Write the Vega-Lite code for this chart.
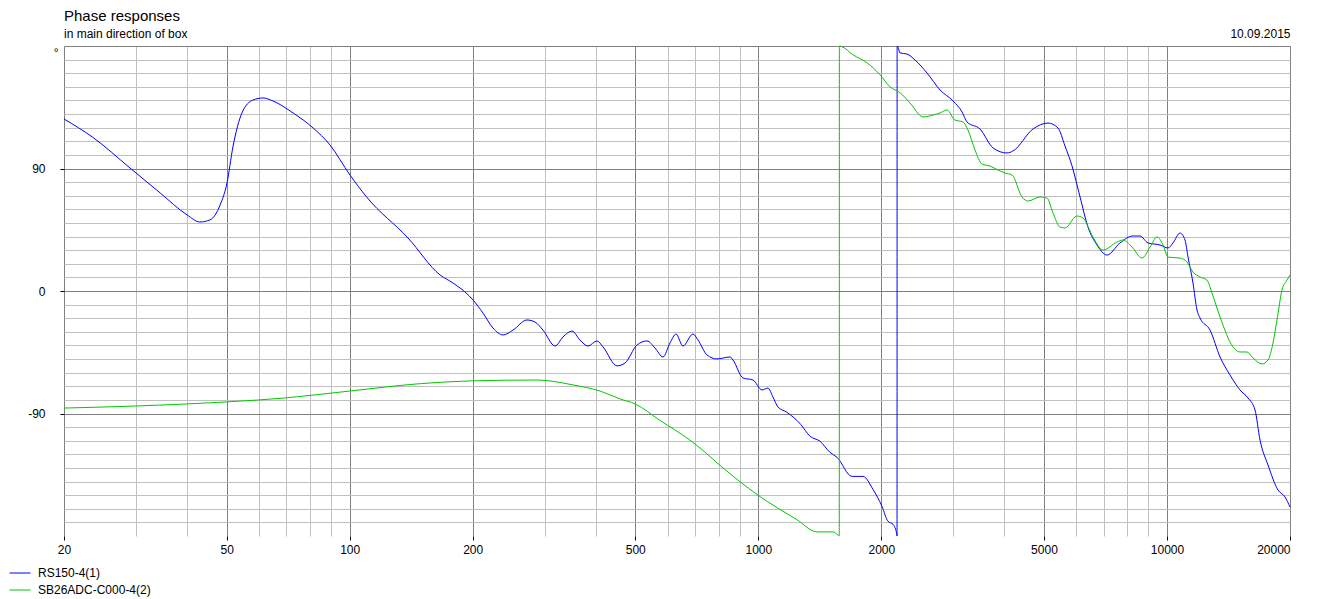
{
  "$schema": "https://vega.github.io/schema/vega-lite/v6.json",
  "width": 1226,
  "height": 490,
  "autosize": {"type": "none"},
  "padding": {"left": 64, "top": 46, "right": 28, "bottom": 63},
  "background": "white",
  "title": {
    "text": "Phase responses",
    "subtitle": "in main direction of box",
    "anchor": "start",
    "frame": "group",
    "font": "Liberation Sans",
    "fontSize": 15,
    "fontWeight": "normal",
    "color": "black",
    "subtitleFont": "Liberation Sans",
    "subtitleFontSize": 12,
    "subtitleColor": "black",
    "subtitlePadding": 5,
    "offset": 6,
    "dy": 19
  },
  "datasets": {
    "blue": [
      {"f":20,"p":126.4},{"f":23.5,"p":113},{"f":29.0,"p":90.4},{"f":34.4,"p":72},{"f":40,"p":55.9},{"f":43.0,"p":50.7},{"f":45.5,"p":52.2},{"f":48.2,"p":63.2},{"f":50.1,"p":79.3},{"f":51.8,"p":105.8},{"f":54.5,"p":130.8},{"f":58.0,"p":140.3},{"f":61.4,"p":141.8},{"f":64.9,"p":139.6},{"f":72.7,"p":130.8},{"f":81.4,"p":119.8},{"f":89.5,"p":107.3},{"f":100.2,"p":85.2},{"f":110,"p":69.1},{"f":139,"p":38.9},{"f":166.4,"p":11.8},{"f":179,"p":5.9},{"f":191.5,"p":-0.7},{"f":200.4,"p":-6.6},{"f":212,"p":-16.2},{"f":224.2,"p":-27.2},{"f":237.4,"p":-32.3},{"f":251,"p":-28.7},{"f":271.6,"p":-21.3},{"f":284.2,"p":-22.8},{"f":297.2,"p":-28.7},{"f":318.2,"p":-40.4},{"f":332.7,"p":-33.8},{"f":350,"p":-29.4},{"f":366,"p":-36},{"f":383,"p":-40.4},{"f":403,"p":-36.7},{"f":416.9,"p":-41.1},{"f":451,"p":-55},{"f":471.8,"p":-52.9},{"f":504.8,"p":-39.7},{"f":534.2,"p":-36.7},{"f":558.8,"p":-41.9},{"f":584.4,"p":-48.5},{"f":608,"p":-38.2},{"f":629,"p":-31.6},{"f":654,"p":-40.4},{"f":692,"p":-31.6},{"f":712,"p":-36},{"f":749,"p":-47},{"f":792,"p":-49.9},{"f":853,"p":-48.5},{"f":867,"p":-50.7},{"f":917,"p":-63.9},{"f":970.6,"p":-65.4},{"f":1021,"p":-72.7},{"f":1056,"p":-71.3},{"f":1086,"p":-77.9},{"f":1117,"p":-85.2},{"f":1175,"p":-89.1},{"f":1269,"p":-97.9},{"f":1338,"p":-106.7},{"f":1416,"p":-110.4},{"f":1497,"p":-118.5},{"f":1558,"p":-122.2},{"f":1695,"p":-136.2},{"f":1804,"p":-136.2},{"f":1908,"p":-145.7},{"f":2007,"p":-158.2},{"f":2076,"p":-169.2},{"f":2136,"p":-171.4},{"f":2184,"p":-179.2},{"f":2185,"p":-180},{"f":2186,"p":180},{"f":2196,"p":179.3},{"f":2222,"p":174.9},{"f":2311,"p":174.1},{"f":2418,"p":169.7},{"f":2587,"p":160.2},{"f":2784,"p":147.7},{"f":2996,"p":139.6},{"f":3152,"p":131.5},{"f":3241,"p":124.2},{"f":3488,"p":119},{"f":3754,"p":105.1},{"f":4060,"p":101.4},{"f":4200,"p":102.9},{"f":4700,"p":119},{"f":5114,"p":123.4},{"f":5410,"p":119.8},{"f":5628,"p":106.6},{"f":5855,"p":92},{"f":6127,"p":69.1},{"f":6408,"p":47},{"f":6742,"p":33.8},{"f":7132,"p":26.4},{"f":7674,"p":35.3},{"f":8257,"p":40.4},{"f":8589,"p":40.4},{"f":8986,"p":35.3},{"f":9618,"p":33.8},{"f":10058,"p":31.6},{"f":10345,"p":35.3},{"f":10760,"p":42.6},{"f":11068,"p":37.5},{"f":11258,"p":25},{"f":11578,"p":5.9},{"f":11842,"p":-14},{"f":12044,"p":-19.8},{"f":12745,"p":-28.7},{"f":13486,"p":-48.5},{"f":14264,"p":-61.7},{"f":15090,"p":-72.7},{"f":15786,"p":-78.6},{"f":16420,"p":-87.4},{"f":16892,"p":-109.5},{"f":17668,"p":-127.8},{"f":18690,"p":-146.2},{"f":19442,"p":-151.3},{"f":20000,"p":-158.7}
    ],
    "green": [
      {"f":20,"p":-86},{"f":30,"p":-84.5},{"f":50,"p":-81.5},{"f":70,"p":-78.5},{"f":100,"p":-73.5},{"f":150,"p":-68},{"f":200,"p":-66},{"f":287,"p":-65.4},{"f":352,"p":-69},{"f":410,"p":-73.5},{"f":459,"p":-79.3},{"f":500,"p":-83},{"f":574,"p":-95},{"f":680,"p":-109.5},{"f":720,"p":-115.3},{"f":805,"p":-128},{"f":998,"p":-150},{"f":1243,"p":-168},{"f":1392,"p":-177},{"f":1523,"p":-177},{"f":1567,"p":-179.3},{"f":1578,"p":-180},{"f":1579,"p":180},{"f":1602,"p":179.5},{"f":1704,"p":173.6},{"f":1844,"p":167.7},{"f":1985,"p":158.9},{"f":2100,"p":150},{"f":2222,"p":145.7},{"f":2350,"p":138.2},{"f":2530,"p":127.9},{"f":2677,"p":129.3},{"f":2784,"p":130.8},{"f":2896,"p":133},{"f":3028,"p":125.6},{"f":3169,"p":124.2},{"f":3258,"p":118.3},{"f":3390,"p":103.6},{"f":3526,"p":93.3},{"f":3690,"p":91.8},{"f":3860,"p":88.9},{"f":4016,"p":86.7},{"f":4177,"p":85.2},{"f":4418,"p":69.1},{"f":4570,"p":66.1},{"f":4890,"p":69.1},{"f":5087,"p":68.3},{"f":5262,"p":57.3},{"f":5472,"p":47},{"f":5628,"p":46.3},{"f":6022,"p":55.1},{"f":6230,"p":53.6},{"f":6590,"p":39.7},{"f":6972,"p":30.1},{"f":7548,"p":36},{"f":7808,"p":37.5},{"f":8215,"p":32.3},{"f":8689,"p":24.2},{"f":9090,"p":32.3},{"f":9456,"p":39.7},{"f":9780,"p":33.8},{"f":10058,"p":24.9},{"f":10760,"p":24.2},{"f":11194,"p":21.3},{"f":11578,"p":13.9},{"f":12044,"p":10.3},{"f":12528,"p":8},{"f":12886,"p":-1.5},{"f":13486,"p":-19.1},{"f":14506,"p":-41.1},{"f":15090,"p":-44.8},{"f":15694,"p":-44.8},{"f":16240,"p":-49.2},{"f":17078,"p":-53.6},{"f":17668,"p":-50.7},{"f":18174,"p":-38.2},{"f":18588,"p":-21.3},{"f":19120,"p":0.7},{"f":19664,"p":8},{"f":20000,"p":11.8}
    ]
  },
  "layer": [
    {
      "data": {"name": "blue"},
      "mark": {"type": "line", "strokeWidth": 1, "interpolate": "monotone"},
      "encoding": {"color": {"datum": "RS150-4(1)", "type": "nominal"}}
    },
    {
      "data": {"name": "green"},
      "mark": {"type": "line", "strokeWidth": 1, "interpolate": "monotone"},
      "encoding": {"color": {"datum": "SB26ADC-C000-4(2)", "type": "nominal"}}
    }
  ],
  "encoding": {
    "x": {
      "field": "f",
      "type": "quantitative",
      "scale": {"type": "log", "domain": [20, 20000], "nice": false},
      "axis": {
        "values": [20,30,40,50,60,70,80,90,100,200,300,400,500,600,700,800,900,1000,2000,3000,4000,5000,6000,7000,8000,9000,10000,20000],
        "grid": true,
        "gridColor": {"condition": {"test": "indexof([20,50,100,200,500,1000,2000,5000,10000,20000], datum.value) >= 0", "value": "#808080"}, "value": "#c0c0c0"},
        "gridWidth": 1,
        "domain": false,
        "tickColor": {"condition": {"test": "indexof([20,50,100,200,500,1000,2000,5000,10000,20000], datum.value) >= 0", "value": "#000000"}, "value": "transparent"},
        "tickSize": 4,
        "labelExpr": "indexof([20,50,100,200,500,1000,2000,5000,10000,20000], datum.value) >= 0 ? '' + datum.value : ''",
        "labelFont": "Liberation Sans",
        "labelFontSize": 12,
        "labelColor": "black",
        "labelPadding": 4,
        "labelFlush": false,
        "labelOverlap": false,
        "labelBound": false,
        "labelAlign": {"condition": {"test": "datum.value == 20000", "value": "right"}, "value": "center"},
        "title": "10.09.2015",
        "titleX": 1226,
        "titleY": -499,
        "titleAlign": "right",
        "titleAnchor": "end",
        "titleBaseline": "alphabetic",
        "titleFont": "Liberation Sans",
        "titleFontSize": 12,
        "titleFontWeight": "normal",
        "titleColor": "black"
      }
    },
    "y": {
      "field": "p",
      "type": "quantitative",
      "scale": {"domain": [-180, 180], "nice": false, "zero": false},
      "axis": {
        "values": [-170,-160,-150,-140,-130,-120,-110,-100,-90,-80,-70,-60,-50,-40,-30,-20,-10,0,10,20,30,40,50,60,70,80,90,100,110,120,130,140,150,160,170,180],
        "grid": true,
        "gridColor": {"condition": {"test": "datum.value % 90 == 0", "value": "#808080"}, "value": "#c0c0c0"},
        "gridWidth": 1,
        "domain": false,
        "tickColor": {"condition": {"test": "abs(datum.value) == 90 || datum.value == 0", "value": "#000000"}, "value": "transparent"},
        "tickSize": 4,
        "labelExpr": "abs(datum.value) == 90 || datum.value == 0 ? '' + datum.value : ''",
        "labelFont": "Liberation Sans",
        "labelFontSize": 12,
        "labelColor": "black",
        "labelPadding": 15,
        "labelOverlap": false,
        "labelBound": false,
        "title": "°",
        "titleAngle": 0,
        "titleX": -6,
        "titleY": 10,
        "titleAlign": "right",
        "titleBaseline": "alphabetic",
        "titleFont": "Liberation Sans",
        "titleFontSize": 12,
        "titleFontWeight": "normal",
        "titleColor": "black"
      }
    },
    "color": {
      "type": "nominal",
      "scale": {"domain": ["RS150-4(1)", "SB26ADC-C000-4(2)"], "range": ["#0000ff", "#00c800"]},
      "legend": {
        "orient": "none",
        "legendX": -55,
        "legendY": 516,
        "title": null,
        "symbolType": "stroke",
        "symbolSize": 441,
        "symbolStrokeWidth": 1,
        "labelFont": "Liberation Sans",
        "labelFontSize": 12,
        "labelColor": "black",
        "labelOffset": 7,
        "rowPadding": -4,
        "padding": 0,
        "direction": "vertical"
      }
    }
  },
  "config": {"view": {"stroke": null}}
}
